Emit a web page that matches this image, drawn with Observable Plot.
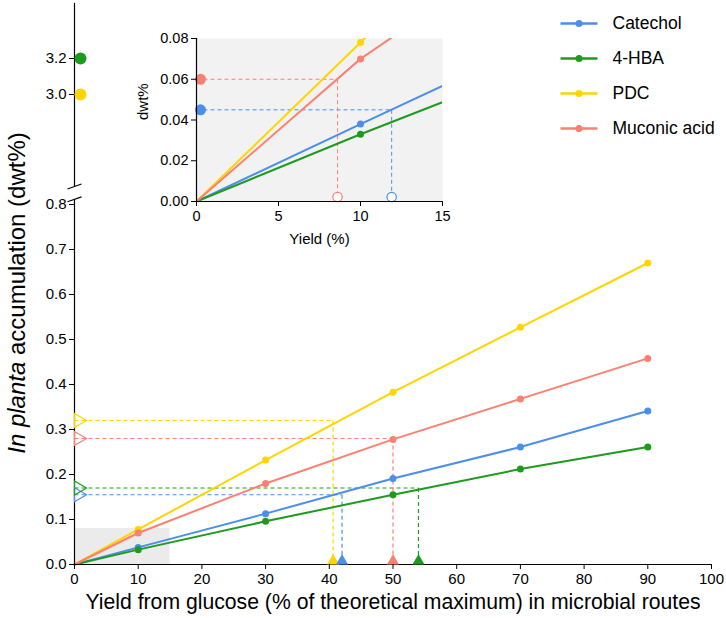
<!DOCTYPE html>
<html>
<head>
<meta charset="utf-8">
<script src="https://cdn.jsdelivr.net/npm/d3@7"></script>
<script src="https://cdn.jsdelivr.net/npm/@observablehq/plot@0.6"></script>
<style>
  body { margin: 0; background: white; }
  #chart { position: relative; width: 726px; height: 618px; overflow: hidden; font-family: "Liberation Sans", Arial, Helvetica, sans-serif; }
  #chart svg { position: absolute; left: 0; top: 0; }
  #ylabel { position: absolute; left: 17px; top: 293px; width: 460px; text-align: center; font-size: 24px; line-height: 1; white-space: nowrap; transform: translate(-50%, -50%) rotate(-90deg); color: #000; }
</style>
</head>
<body>
<div id="chart">
  <div id="ylabel"><i>In planta</i> accumulation (dwt%)</div>
</div>
<script>
// ---- data ----
const names = ["Catechol", "4-HBA", "PDC", "Muconic acid"];
const colors = ["#4C8EEB", "#1E9B1E", "#FFD500", "#FA8072"];
const yields = [0, 10, 30, 50, 70, 90];
const catechol = [0, 0.038, 0.113, 0.191, 0.261, 0.341];
const hba = [0, 0.033, 0.096, 0.155, 0.212, 0.261];
const pdc = [0, 0.078, 0.232, 0.383, 0.527, 0.670];
const muconic = [0, 0.070, 0.180, 0.278, 0.368, 0.458];

// required yields to reach in planta accumulation levels (main panel)
const refNames = ["PDC", "Catechol", "Muconic acid", "4-HBA"];
const refDwt = [0.32, 0.155, 0.28, 0.17];
const refYield = [40.6, 42.0, 50.0, 54.0];

// inset reference levels
const insetRefNames = ["Muconic acid", "Catechol"];
const insetRefDwt = [0.06, 0.045];
const insetRefYield = [8.6, 11.9];

// upper (broken) axis values
const upperNames = ["4-HBA", "PDC"];
const upperDwt = [3.2, 3.0];

const xTicks = [0, 10, 20, 30, 40, 50, 60, 70, 80, 90, 100];
const yTicks = [0, 0.1, 0.2, 0.3, 0.4, 0.5, 0.6, 0.7, 0.8];
const upperTicks = [3.0, 3.2];
const insetX = [0, 15];
const insetY = [0, 0.08];
const insetXTicks = [0, 5, 10, 15];
const insetYTicks = [0, 0.02, 0.04, 0.06, 0.08];

// ---- tables ----
const seriesVals = {"Catechol": catechol, "4-HBA": hba, "PDC": pdc, "Muconic acid": muconic};
const rows = names.flatMap(n => yields.map((x, i) => ({name: n, x, y: seriesVals[n][i]})));
const dotsRows = rows.filter(d => d.x > 0);
const refs = refNames.map((n, i) => ({name: n, dwt: refDwt[i], yield: refYield[i]}));
const insetRefs = insetRefNames.map((n, i) => ({name: n, dwt: insetRefDwt[i], yield: insetRefYield[i]}));
const upper = upperNames.map((n, i) => ({name: n, dwt: upperDwt[i]}));
const insetBox = [{x1: insetX[0], x2: insetX[1], y1: insetY[0], y2: insetY[1]}];

const font = "'Liberation Sans', Arial, Helvetica, sans-serif";
const colorScale = {domain: names, range: colors};
const baseStyle = (fs) => ({background: "transparent", fontFamily: font, fontSize: fs, color: "#000", overflow: "visible"});
const dash = "4,3";

function tickFont(svg, px) {
  d3.select(svg).selectAll('g[aria-label$="tick label"]').attr("font-size", px).style("font-size", px + "px");
  d3.select(svg).selectAll('g[aria-label$="tick label"] text').style("font-size", px + "px");
  return svg;
}

const chart = document.getElementById("chart");

// ---- main panel ----
const main = Plot.plot({
  width: 726, height: 618,
  marginLeft: 74, marginRight: 15, marginTop: 204, marginBottom: 54,
  x: {domain: [0, 100]},
  y: {domain: [0, 0.8]},
  color: colorScale,
  style: baseStyle("15px"),
  marks: [
    Plot.rect(insetBox, {x1: "x1", x2: "x2", y1: "y1", y2: "y2", fill: "#ebebeb"}),
    Plot.link(refs, {x1: 0, x2: "yield", y1: "dwt", y2: "dwt", stroke: "name", strokeWidth: 1.2, strokeDasharray: dash}),
    Plot.link(refs, {x1: "yield", x2: "yield", y1: "dwt", y2: 0, stroke: "name", strokeWidth: 1.2, strokeDasharray: dash}),
    Plot.line(rows, {x: "x", y: "y", z: "name", stroke: "name", strokeWidth: 2}),
    Plot.dot(dotsRows, {x: "x", y: "y", fill: "name", r: 3.5}),
    Plot.ruleY([0], {stroke: "#000", strokeWidth: 1.2}),
    Plot.ruleX([0], {y1: 0, y2: 0.81, stroke: "#000", strokeWidth: 1.2}),
    Plot.link([0], {x1: -1.1, x2: 1.1, y1: 0.806, y2: 0.817, stroke: "#000", strokeWidth: 1.2}),
    Plot.dot(refs, {x: "yield", y: 0, symbol: "triangle", r: 4.5, dy: -3.5, fill: "name"}),
    Plot.dot(refs, {x: 0, y: "dwt", symbol: "triangle", rotate: 90, r: 5.2, dx: 4, fill: "none", stroke: "name", strokeWidth: 1.2}),
    Plot.axisX({ticks: xTicks, tickSize: 5, tickPadding: 4, label: null, fontSize: 15}),
    Plot.axisY({ticks: yTicks, tickSize: 5, tickPadding: 3, tickFormat: ".1f", label: null, fontSize: 15}),
    Plot.text(["Yield from glucose (% of theoretical maximum) in microbial routes"], {frameAnchor: "bottom", dy: 44, lineAnchor: "bottom", fontSize: 21.2, text: d => d})
  ]
});
chart.appendChild(tickFont(main, 15));

// ---- upper (broken) segment ----
const up = Plot.plot({
  width: 726, height: 618,
  marginLeft: 74, marginRight: 15, marginTop: 0, marginBottom: 0,
  x: {domain: [0, 100], axis: null},
  y: {domain: [3.0, 3.2], range: [94, 58]},
  color: colorScale,
  style: baseStyle("15px"),
  marks: [
    Plot.ruleX([0], {y1: 2.489, y2: 3.506, stroke: "#000", strokeWidth: 1.2}),
    Plot.link([0], {x1: -1.1, x2: 1.1, y1: 2.475, y2: 2.503, stroke: "#000", strokeWidth: 1.2}),
    Plot.axisY({ticks: upperTicks, tickSize: 5, tickPadding: 3, tickFormat: ".1f", label: null, fontSize: 15}),
    Plot.dot(upper, {x: 0, y: "dwt", fill: "name", r: 6, dx: 6})
  ]
});
chart.appendChild(tickFont(up, 15));

// ---- inset ----
const inset = Plot.plot({
  width: 726, height: 618,
  marginLeft: 196, marginRight: 284, marginTop: 38, marginBottom: 417,
  x: {domain: insetX},
  y: {domain: insetY},
  color: colorScale,
  style: baseStyle("14.5px"),
  marks: [
    Plot.frame({fill: "#f2f2f2", stroke: "none"}),
    Plot.link(insetRefs, {x1: 0, x2: "yield", y1: "dwt", y2: "dwt", stroke: "name", strokeWidth: 1, strokeDasharray: dash}),
    Plot.link(insetRefs, {x1: "yield", x2: "yield", y1: "dwt", y2: 0, stroke: "name", strokeWidth: 1, strokeDasharray: dash}),
    Plot.line(rows, {x: "x", y: "y", z: "name", stroke: "name", strokeWidth: 2, clip: true}),
    Plot.dot(dotsRows, {x: "x", y: "y", fill: "name", r: 3.5, clip: true}),
    Plot.dot(insetRefs, {x: 0, y: "dwt", fill: "name", r: 5.5, dx: 4}),
    Plot.dot(insetRefs, {x: "yield", y: 0, fill: "white", stroke: "name", strokeWidth: 1.2, r: 4.7, dy: -4.5}),
    Plot.ruleY([0], {stroke: "#000", strokeWidth: 1.2}),
    Plot.ruleX([0], {stroke: "#000", strokeWidth: 1.2}),
    Plot.axisX({ticks: insetXTicks, tickSize: 5, tickPadding: 4, label: null, fontSize: 14.5}),
    Plot.axisY({ticks: insetYTicks, tickSize: 5, tickPadding: 3, tickFormat: ".2f", label: null, fontSize: 14.5}),
    Plot.text(["Yield (%)"], {frameAnchor: "bottom", dy: 42, lineAnchor: "bottom", fontSize: 15, text: d => d}),
    Plot.text(["dwt%"], {frameAnchor: "left", dx: -49, lineAnchor: "bottom", rotate: -90, fontSize: 15, text: d => d})
  ]
});
chart.appendChild(tickFont(inset, 14.5));

// ---- legend ----
const legend = Plot.plot({
  width: 726, height: 618, margin: 0,
  x: {domain: [0, 1], range: [560, 597], axis: null},
  y: {type: "point", domain: names, range: [22.7, 127.7], padding: 0, axis: null},
  color: colorScale,
  style: baseStyle("17.5px"),
  marks: [
    Plot.link(names, {x1: 0, x2: 1, y1: d => d, y2: d => d, stroke: d => d, strokeWidth: 2.5}),
    Plot.dot(names, {x: 0.5, y: d => d, fill: d => d, r: 3.5}),
    Plot.text(names, {x: 1, y: d => d, text: d => d, dx: 15, textAnchor: "start", fontSize: 17.5, fill: "#000"})
  ]
});
chart.appendChild(legend);
</script>
</body>
</html>
